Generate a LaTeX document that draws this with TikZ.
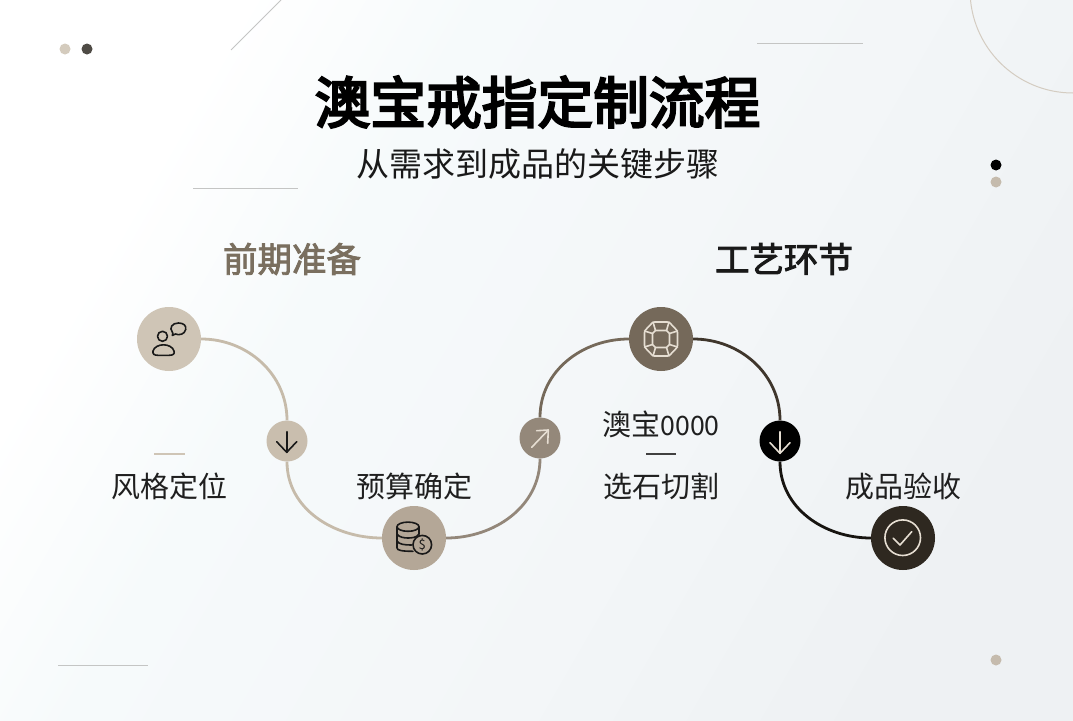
\documentclass[tikz,border=0pt]{standalone}
\usepackage{fontspec}
\setmainfont{Noto Sans CJK SC}
\newfontfamily\titlefont[FakeBold=4]{Noto Sans CJK SC}
\newfontfamily\headfont[FakeBold=2.6]{Noto Sans CJK SC}
\usetikzlibrary{arrows.meta}
\definecolor{bgmid}{HTML}{F6FAFB}
\definecolor{bgmidb}{HTML}{F3F6F8}
\definecolor{bgend}{HTML}{EEF1F3}
\definecolor{tanA}{HTML}{CFC5B6}
\definecolor{tanB}{HTML}{C9BEAE}
\definecolor{tanC}{HTML}{B4A797}
\definecolor{tanD}{HTML}{94887A}
\definecolor{tanE}{HTML}{75695A}
\definecolor{darkF}{HTML}{2E2820}
\definecolor{lineA}{HTML}{C6BBAA}
\definecolor{lineB}{HTML}{93877A}
\definecolor{lineC}{HTML}{75695A}
\definecolor{lineD}{HTML}{3F362C}
\definecolor{lineE}{HTML}{171410}
\definecolor{head}{HTML}{7A6F5F}
\definecolor{ivory}{HTML}{E6DED2}
\definecolor{decoline}{HTML}{C4C5C4}
\pgfdeclarehorizontalshading{pagewash}{100bp}{color(0bp)=(white); color(27bp)=(white); color(38bp)=(bgmid); color(58bp)=(bgmidb); color(75bp)=(bgend); color(100bp)=(bgend)}
\tikzset{
  x=1pt,y=-1pt,
  bigdisc/.style={circle,draw=none,minimum size=64pt,inner sep=0pt},
  smalldisc/.style={circle,draw=none,minimum size=41pt,inner sep=0pt},
  flow/.style={line width=2.8pt},
  label/.style={font=\fontsize{29}{29}\selectfont,text=black!88,inner sep=0pt},
  header/.style={font=\fontsize{34.5}{34.5}\selectfont\headfont,inner sep=0pt},
  icon/.style={line width=1.6pt,line cap=round,line join=round},
  inkicon/.style={icon,draw=black!90},
  deco/.style={draw=decoline,line width=1pt},
  dot/.style={circle,minimum size=11pt,inner sep=0pt,draw=none},
}
\begin{document}
\begin{tikzpicture}
\useasboundingbox (0,0) rectangle (1073,720);
\clip (0,0) rectangle (1073,720);
\shade[shading=pagewash,shading angle=-30] (0,0) rectangle (1073,720);

% decoration
\draw[deco] (231,50) -- (281,0);
\draw[deco] (193,188) -- (298,188);
\draw[deco] (757,43) -- (863,43);
\draw[deco] (58,665) -- (148,665);
\draw[draw=ivory!92!black,line width=1pt] (1073,-10) circle[radius=103];
\node[dot,fill=tanA!90!white] (d1) at (65,49) {};
\node[dot,fill=black!62!tanA] (d2) at (87,49) {};
\node[dot,fill=black] (d3) at (996,165) {};
\node[dot,fill=tanA!95!black] (d4) at (996,182) {};
\node[dot,fill=tanA!95!black] (d5) at (996,660) {};

% titles
\node[inner sep=0pt,text=black,font=\fontsize{55.7}{55.7}\selectfont\titlefont] (title) at (537.5,102) {澳宝戒指定制流程};
\node[inner sep=0pt,text=black!90,font=\fontsize{33}{33}\selectfont] (subtitle) at (537.5,164) {从需求到成品的关键步骤};
\node[header,text=head] (h1) at (292,259) {前期准备};
\node[header,text=black!90] (h2) at (784,259) {工艺环节};

% nodes
\node[bigdisc,fill=tanA] (a) at (169,339) {};
\node[smalldisc,fill=tanB] (b) at (287,441) {};
\node[bigdisc,fill=tanC] (c) at (414,538) {};
\node[smalldisc,fill=tanD] (d) at (540,438) {};
\node[bigdisc,fill=tanE] (e) at (661,339) {};
\node[smalldisc,fill=black] (f) at (780,441) {};
\node[bigdisc,fill=darkF] (g) at (903,538) {};

% connectors
\draw[flow,draw=lineA] (a.east) to[out=0,in=90] (b.north);
\draw[flow,draw=lineA] (b.south) to[out=-90,in=180] (c.west);
\draw[flow,draw=lineB] (c.east) to[out=0,in=-90] (d.south);
\draw[flow,draw=lineC] (d.north) to[out=90,in=180] (e.west);
\draw[flow,draw=lineD] (e.east) to[out=0,in=90] (f.north);
\draw[flow,draw=lineE] (f.south) to[out=-90,in=180] (g.west);

% labels
\node[label] (l1) at (169,486) {风格定位};
\node[label] (l2) at (414,486) {预算确定};
\node[label] (l3) at (661,424) {澳宝{\fontsize{26.7}{29}\selectfont 0000}};
\node[label] (l4) at (661,486) {选石切割};
\node[label] (l5) at (903,486) {成品验收};
\draw[draw=tanA,line width=1.1pt] (154,454) -- (185,454);
\draw[draw=black!75,line width=1.1pt] (646,454) -- (676,454);

% icon: person and bubble
\draw[inkicon] (162.5,336.3) circle[radius=5];
\draw[inkicon] (158,355.3) -- (169,355.3) .. controls (173,355.3) and (175,354) .. (174,351) .. controls (173,347) and (168,344.8) .. (163.5,344.8) .. controls (159,344.8) and (154,347) .. (153,351) .. controls (152.5,354) and (154,355.3) .. (158,355.3) -- cycle;
\draw[inkicon] (172.3,335.5) .. controls (173,333.5) and (173,333) .. (172.3,332) .. controls (169,328) and (172,323) .. (178.5,323) .. controls (184,323) and (186.5,326) .. (185.7,329.5) .. controls (185,334) and (179,335.8) .. (175.5,334) -- cycle;

% icon: down arrow 1
\draw[inkicon] (286.7,431.7) -- (286.7,452.3);
\draw[inkicon] (276.7,441.7) -- (286.7,452.3) -- (296.7,441.7);

% icon: coins
\draw[inkicon] (408,526.7) ellipse[x radius=11,y radius=4.6];
\draw[inkicon] (397,526.7) -- (397,548) .. controls (397,550.5) and (403,551.3) .. (413,551.3);
\draw[inkicon] (419,526.7) -- (419,534);
\draw[inkicon] (397,534) .. controls (399,537.5) and (405,538) .. (408,538) .. controls (412,538) and (417,537.5) .. (419,534);
\draw[inkicon] (397,541) .. controls (399,544.5) and (405,545) .. (411.5,545);
\draw[inkicon] (422.3,544.7) circle[radius=9.3];
\node[inner sep=0pt,text=black!90,font=\fontsize{13}{13}\selectfont] (dollar) at (422.3,544.7) {\$};

% icon: up-right arrow
\draw[icon,draw=ivory] (531.7,447.3) -- (548.3,430);
\draw[icon,draw=ivory] (536.7,430.7) -- (548.3,430) -- (547.7,443.3);

% icon: gem
\begin{scope}[icon,draw=ivory]
\draw[rounded corners=1.5pt] (653,322) -- (669,322) -- (677.5,331) -- (677.5,347) -- (669,356) -- (653,356) -- (644.5,347) -- (644.5,331) -- cycle;
\draw (655.5,330.5) -- (666.5,330.5) -- (669.5,333.5) -- (669.5,344.5) -- (666.5,347.5) -- (655.5,347.5) -- (652.5,344.5) -- (652.5,333.5) -- cycle;
\draw (644.5,331) -- (652.5,333.5) (653,322) -- (655.5,330.5);
\draw (677.5,331) -- (669.5,333.5) (669,322) -- (666.5,330.5);
\draw (644.5,347) -- (652.5,344.5) (653,356) -- (655.5,347.5);
\draw (677.5,347) -- (669.5,344.5) (669,356) -- (666.5,347.5);
\end{scope}

% icon: down arrow 2
\draw[icon,draw=ivory] (780,431.7) -- (780,453.3);
\draw[icon,draw=ivory] (770,442.7) -- (780,453.3) -- (790,442.7);

% icon: check
\draw[icon,draw=ivory] (902.7,537.7) circle[radius=17.8];
\draw[icon,draw=ivory] (893.3,538.3) -- (900,545) -- (911.7,531.7);
\end{tikzpicture}
\end{document}
